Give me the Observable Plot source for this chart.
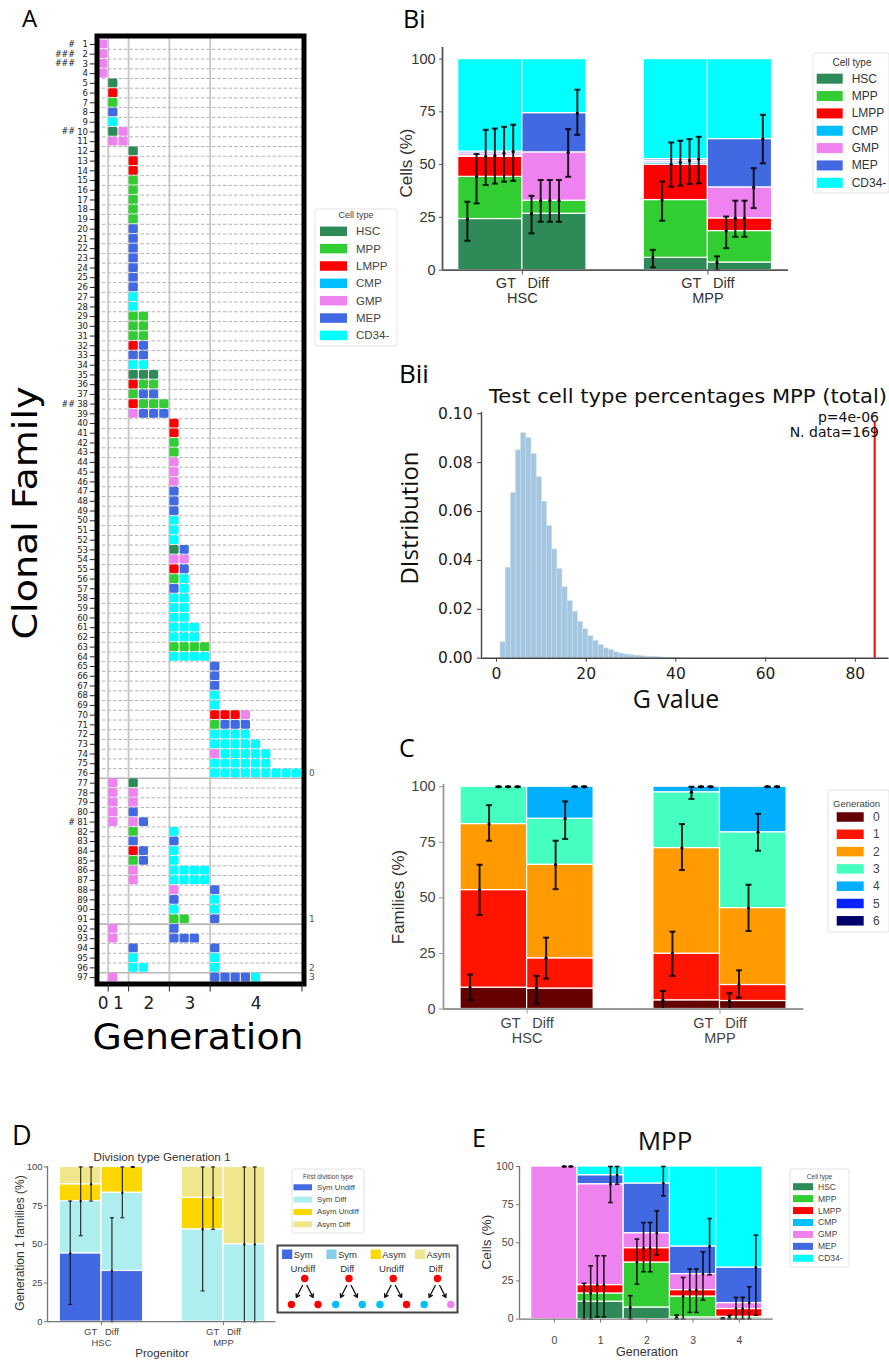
<!DOCTYPE html>
<html><head><meta charset="utf-8">
<script src="https://cdn.jsdelivr.net/npm/d3@7"></script>
<script src="https://cdn.jsdelivr.net/npm/@observablehq/plot@0.6"></script>
<style>
html,body{margin:0;padding:0;background:#fff;}
#root{position:relative;width:889px;height:1360px;overflow:hidden;background:#fff;}
</style></head>
<body><div id="root"></div>
<script>
// ================= DATA =================
const cellTypes  = ["HSC","MPP","LMPP","CMP","GMP","MEP","CD34-"];
const cellColors = ["#2e8b57","#32cd32","#ff0000","#00bfff","#ee82ee","#4169e1","#00ffff"];
const cellCodes  = ["H","M","L","C","G","E","X"];

// Panel A: each clonal family = list of "<slot><cell code>"
const familyCells = [
 "0G","0G","0G","0G",
 "1H","1L","1M","1E","1X",
 "1H 2G","1G 2G",
 "3H","3L","3L","3M","3M","3M","3M","3M",
 "3E","3E","3E","3E","3E","3E","3E",
 "3X","3X",
 "3M 4M","3M 4M","3M 4M","3L 4E","3E 4E","3X 4X",
 "3H 4H 5H","3L 4M 5M","3M 4E 5E",
 "3L 4M 5M 6M","3G 4E 5E 6E",
 "7L","7L","7M","7M","7G","7G","7G","7E","7E","7E",
 "7X","7X","7X",
 "7H 8E","7G 8G","7L 8E","7M 8X","7E 8X",
 "7X 8X","7X 8X","7X 8X",
 "7X 8X 9X","7X 8X 9X",
 "7M 8M 9M 10M","7X 8X 9X 10X",
 "11E","11E","11E","11X","11X",
 "11L 12L 13L 14G","11M 12E 13E 14E",
 "11X 12X 13X 14X","11X 12X 13X 14X 15X",
 "11G 12X 13X 14X 15X 16X","11X 12X 13X 14X 15X 16X",
 "11X 12X 13X 14X 15X 16X 17X 18X 19X",
 "1G 3H","1G 3G","1G 3G","1G 3E","1G 3G 4E",
 "3M 7X","3E 7E","3L 4E 7X","3M 4E 7X",
 "3G 7X 8X 9X 10X","3G 7X 8X 9X 10X",
 "7G 11E","7E 11X","7X 11X","7M 8M 11E",
 "1G 7E","1G 7E 8E 9E",
 "3E 11E","3X 11X","3X 4X 11X",
 "1G 11E 12E 13E 14E 15X"
];
const hashRows  = [1, 2, 3, 10, 38, 81];
const hashMarks = ["#", "###", "###", "##", "##", "#"];
const groupEndRows = [76, 91, 96, 97];
const groupNames   = ["0", "1", "2", "3"];
const genNames     = ["0", "1", "2", "3", "4"];
const genFirstSlot = [0, 1, 3, 7, 11];
const genEndSlot   = [1, 3, 7, 11, 20];

// Panel Bi: cumulative % per cell type (bars: HSC GT, HSC Diff, MPP GT, MPP Diff)
const progenitors = ["HSC", "MPP"];
const conditions  = ["GT", "Diff"];
const biCum = [
  [24.2, 44.2, 53.7, 54.2, 55.3, 56.2, 100],
  [26.7, 32.9, 32.9, 32.9, 55.8, 74.4, 100],
  [5.8, 33.2, 50.0, 51.0, 51.8, 52.6, 100],
  [3.6, 18.5, 24.5, 24.5, 39.2, 62.1, 100]
];
const biLo = [
  [13.9, 31.6, 40.3, 41.0, 41.9, 42.3],
  [17.4, 22.9, 22.9, 22.9, 44.2, 64.1],
  [1.3, 23.4, 39.5, 40.0, 40.8, 41.1],
  [0, 10.4, 15.8, 15.8, 29.4, 50.6]
];
const biHi = [
  [32.4, 55.0, 66.5, 67.1, 67.9, 68.9],
  [35.2, 42.7, 42.7, 42.7, 66.8, 85.5],
  [9.6, 42.0, 60.5, 61.3, 62.1, 63.2],
  [6.5, 25.4, 32.9, 32.9, 48.3, 73.6]
];

// Panel Bii: null distribution of G
const gBinLeft = [0.9, 2.05, 3.2, 4.35, 5.5, 6.65, 7.8, 8.95, 10.1, 11.25, 12.4, 13.55, 14.7, 15.85, 17.0,
  18.15, 19.3, 20.45, 21.6, 22.75, 23.9, 25.05, 26.2, 27.35, 28.5, 29.65, 30.8, 31.95, 33.1, 34.25, 35.4,
  36.55, 37.7, 38.85, 40.0];
const gBinWidth = 1.15;
const gDensity = [0.0065, 0.037, 0.0675, 0.085, 0.092, 0.090, 0.0835, 0.074, 0.064, 0.054, 0.0445, 0.0365,
  0.029, 0.0233, 0.019, 0.0148, 0.0118, 0.009, 0.007, 0.0053, 0.004, 0.0033, 0.0024, 0.0019, 0.0015, 0.0012,
  0.001, 0.0008, 0.0006, 0.0005, 0.0004, 0.0003, 0.0002, 0.00015, 0.0001];
const gObserved = 84.3;
const gLineTop = 0.0965;
const gTitle = "Test cell type percentages MPP (total)";
const gPValue = "p=4e-06";
const gNData = "N. data=169";

// Panel C: cumulative % of families per generation
const genLevels = ["0","1","2","3","4","5","6"];
const genColors = ["#640000","#ff1400","#ff9a00","#44ffc0","#00b0ff","#0a22ff","#00006c"];
const cCum = [
  [9.6, 53.5, 83.2, 100, 100, 100, 100],
  [9.2, 22.8, 64.9, 85.6, 100, 100, 100],
  [3.9, 24.9, 72.4, 97.5, 100, 100, 100],
  [3.6, 10.8, 45.4, 79.5, 100, 100, 100]
];
const cLo = [
  [4.0, 42.3, 75.7, 100, 100, 100],
  [2.4, 13.7, 53.9, 76.5, 100, 100],
  [0, 14.9, 62.5, 94.5, 100, 100],
  [0, 5.1, 35.1, 71.2, 100, 100]
];
const cHi = [
  [15.5, 64.9, 91.7, 100, 100, 100],
  [14.9, 32.1, 75.7, 93.4, 100, 100],
  [8.1, 34.8, 83.2, 100, 100, 100],
  [7.1, 17.4, 55.9, 87.8, 100, 100]
];

// Panel D: first division type
const divTypes  = ["Sym Undiff", "Sym Diff", "Asym Undiff", "Asym Diff"];
const divColors = ["#4169e1", "#afeeee", "#ffd700", "#f0e68c"];
const dCum = [
  [44.2, 78.0, 88.8, 100],
  [32.8, 83.4, 100, 100],
  [0, 59.7, 80.1, 100],
  [0, 50, 50, 100]
];
const dLo = [[11.2, 55.6, 78.0], [0, 67.2, 100], [0, 19.9, 59.7], [0, 0, 0]];
const dHi = [[78.0, 100, 100], [67.2, 100, 100], [0, 100, 100], [0, 100, 100]];
const divKinds = ["Sym", "Sym", "Asym", "Asym"];
const divFates = ["Undiff", "Diff", "Undiff", "Diff"];
const divSwatch = ["#4169e1", "#87ceeb", "#ffd700", "#f0e68c"];
const divParent = "#ff0000";
const divChildren = [["#ff0000","#ff0000"],["#00bfff","#00bfff"],["#00bfff","#ff0000"],["#00bfff","#ee82ee"]];

// Panel E: MPP, cumulative % per cell type by generation
const eGens = ["0", "1", "2", "3", "4"];
const eCum = [
  [0, 0, 0, 0, 100, 100, 100],
  [11.4, 16.8, 22.3, 22.3, 88.4, 94.3, 100],
  [7.6, 37.1, 46.5, 46.5, 56.3, 88.9, 100],
  [1.1, 14.8, 19.0, 19.0, 29.5, 47.6, 100],
  [0.4, 1.5, 6.6, 6.6, 10.5, 33.8, 100]
];
const eLo = [
  [0, 0, 0, 0, 100, 100],
  [0, 0, 1.5, 1.5, 76.4, 88.4],
  [0, 22.9, 31.0, 31.0, 42.1, 80.8],
  [0, 0, 4.4, 4.4, 12.4, 29.0],
  [0, 0, 0, 0, 0, 2.6]
];
const eHi = [
  [0, 0, 0, 0, 100, 100],
  [23.4, 34.9, 41.5, 41.5, 100, 100],
  [15.3, 52.4, 63.3, 63.3, 71.0, 100],
  [2.6, 27.3, 32.8, 32.8, 44.1, 65.9],
  [0.5, 2.6, 14.2, 14.2, 21.2, 55.0]
];

// ================= HELPERS =================
const LIB = '"Liberation Sans", Arial, sans-serif';
const DJV = '"DejaVu Sans", sans-serif';
const OPEN = '"Open Sans", sans-serif';
const root = document.getElementById("root");
function place(node, left, top) {
  node.style.position = "absolute";
  node.style.left = left + "px";
  node.style.top = top + "px";
  node.style.maxWidth = "none";
  root.appendChild(node);
}
const hline = { draw(ctx, size) { const r = Math.sqrt(size / Math.PI); ctx.moveTo(-r, 0); ctx.lineTo(r, 0); } };
const colorOfCell = t => cellColors[cellTypes.indexOf(t)];

// ================= PANEL A =================
{
  const cells = [];
  familyCells.forEach((s, i) => s.split(" ").forEach(tok => {
    const slot = +tok.slice(0, -1), code = tok.slice(-1);
    cells.push({row: i + 1, slot, type: cellTypes[cellCodes.indexOf(code)]});
  }));
  const rowIds = d3.range(1, familyCells.length + 1);
  const dashed = rowIds.slice(0, -1).filter(r => !groupEndRows.includes(r)).map(r => r + 0.5);
  const solid = groupEndRows.slice(0, -1).map(r => r + 0.5);
  const genCenters = genFirstSlot.map((s, i) => (s + genEndSlot[i]) / 2);
  const genLabel = new Map(genCenters.map((c, i) => [c, genNames[i]]));
  const fx0 = 96.5, fx1 = 303.5, fy0 = 35.5, fy1 = 983.5;
  const m = [96.5, 40, 35.5, 40];
  const p = Plot.plot({
    width: fx1 - fx0 + m[0] + m[1], height: fy1 - fy0 + m[2] + m[3],
    marginLeft: m[0], marginRight: m[1], marginTop: m[2], marginBottom: m[3],
    x: {domain: [-0.1, 20.2], label: null},
    y: {domain: [0.13, 97.66], reverse: true, axis: null, label: null},
    style: {fontFamily: DJV, fontSize: "9px", color: "#222", background: "transparent", overflow: "visible"},
    marks: [
      Plot.ruleY(dashed, {stroke: "#b4b4b4", strokeDasharray: "3.5,2", strokeWidth: 1}),
      Plot.ruleY(solid, {stroke: "#b8b8b8", strokeWidth: 1.6}),
      Plot.ruleX(genFirstSlot.slice(1), {stroke: "#c6c6c6", strokeWidth: 1.8}),
      Plot.rect(cells, {x1: "slot", x2: d => d.slot + 1, y1: d => d.row - 0.5, y2: d => d.row + 0.5,
        fill: d => colorOfCell(d.type), inset: 0.5, rx: 1.5}),
      Plot.frame({stroke: "black", strokeWidth: 5}),
      Plot.ruleY(rowIds, {x1: -0.75, x2: -0.2, stroke: "#222", strokeWidth: 1}),
      Plot.text(rowIds, {y: d => d, text: d => String(d), frameAnchor: "left", dx: -9, textAnchor: "end", fontSize: 8.5, fill: "#222"}),
      Plot.text(hashRows, {y: d => d, text: (d, i) => hashMarks[i], frameAnchor: "left", dx: -22, textAnchor: "end", fontSize: 8, fill: "#222"}),
      Plot.text(groupEndRows, {y: d => d, text: (d, i) => groupNames[i], frameAnchor: "right", dx: 5, textAnchor: "start", fontSize: 9, fill: "#555"}),
      Plot.axisX({ticks: genEndSlot, tickSize: 8, tickFormat: () => "", stroke: "#222"}),
      Plot.axisX({ticks: genCenters, tickSize: 0, tickPadding: 13, tickFormat: d => genLabel.get(d), fontSize: 17, fill: "#222"})
    ]
  });
  place(p, fx0 - m[0], fy0 - m[2]);
}

// ================= STACKED PANELS =================
function stackPanel(o) {
  const nc = o.colors.length;
  const segs = [], errs = [];
  o.cum.forEach((tops, b) => {
    const gi = Math.floor(b / o.subs.length), si = b % o.subs.length;
    const x0 = gi * o.step + si;
    tops.forEach((t, k) => {
      const y1 = k ? tops[k - 1] : 0;
      if (t > y1) segs.push({x1: x0, x2: x0 + 1, y1, y2: t, k});
    });
    o.lo[b].forEach((l, k) => {
      const h = o.hi[b][k];
      if (!(tops[k] === 0 && l === 0 && h === 0)) errs.push({x: x0 + (k + 1) / nc, y: tops[k], lo: l, hi: h});
    });
  });
  const caps = errs.flatMap(e => [{x: e.x, y: e.lo}, {x: e.x, y: e.hi}]);
  const tickVals = o.groups.map((g, gi) => gi * o.step + o.subs.length / 2);
  const tickText = new Map(tickVals.map((v, gi) => [v, o.tickLabel(o.groups[gi])]));
  const [fx0, fx1, fy0, fy1] = o.frame;
  const m = o.m;
  const p = Plot.plot({
    width: fx1 - fx0 + m[0] + m[1], height: fy1 - fy0 + m[2] + m[3],
    marginLeft: m[0], marginRight: m[1], marginTop: m[2], marginBottom: m[3],
    x: {domain: o.xDomain, label: null},
    y: {domain: o.yDomain, label: null},
    style: {fontFamily: LIB, fontSize: o.fontSize + "px", color: o.tickColor, background: "transparent", overflow: "visible"},
    marks: [
      Plot.rect(segs, {x1: "x1", x2: "x2", y1: "y1", y2: "y2", fill: d => o.colors[d.k], stroke: "white", strokeWidth: 1.2}),
      Plot.ruleX(errs, {x: "x", y1: "lo", y2: "hi", stroke: "black", strokeWidth: o.errW, strokeOpacity: o.errOp}),
      Plot.dot(caps, {x: "x", y: "y", symbol: hline, r: o.capR, fill: "none", stroke: "black", strokeWidth: o.errW, strokeOpacity: o.errOp}),
      Plot.dot(errs, {x: "x", y: "y", r: o.dotR, fill: "black", fillOpacity: o.errOp}),
      Plot.ruleX([o.xDomain[0]], {stroke: o.spine, strokeWidth: o.spineW}),
      Plot.ruleY([o.yDomain[0]], {stroke: o.spine, strokeWidth: o.spineW}),
      Plot.axisY({ticks: o.yTicks, tickSize: o.yTickSize, tickPadding: o.yTickPadding, fontSize: o.fontSize, stroke: o.spine, fill: o.tickColor}),
      Plot.axisX({ticks: tickVals, tickFormat: d => tickText.get(d), tickSize: o.xTickSize, tickPadding: o.xTickPadding,
        fontSize: o.fontSize, lineHeight: o.lineHeight, stroke: o.spine, fill: o.tickColor})
    ]
  });
  place(p, fx0 - m[0], fy0 - m[2]);
}
const groupTick = g => conditions.join("   ") + "\n" + g;

// Bi
stackPanel({
  frame: [442, 788, 46.7, 269.3], m: [50, 16, 10, 45],
  xDomain: [-0.245, 5.149], yDomain: [0, 105.5],
  groups: progenitors, subs: conditions, step: 2.892,
  cum: biCum, lo: biLo, hi: biHi, colors: cellColors, tickLabel: groupTick,
  yTicks: [0, 25, 50, 75, 100], yTickSize: 3, yTickPadding: 4, xTickSize: 5, xTickPadding: 3,
  fontSize: 14.5, lineHeight: 1, tickColor: "#333", spine: "#555", spineW: 1.8,
  errW: 2, errOp: 0.85, capR: 3, dotR: 1.7
});
// C
stackPanel({
  frame: [443, 803.3, 783.5, 1008], m: [50, 10, 10, 45],
  xDomain: [-0.256, 5.157], yDomain: [0, 101],
  groups: progenitors, subs: conditions, step: 2.898,
  cum: cCum, lo: cLo, hi: cHi, colors: genColors, tickLabel: groupTick,
  yTicks: [0, 25, 50, 75, 100], yTickSize: 4, yTickPadding: 4, xTickSize: 5, xTickPadding: 3,
  fontSize: 14.5, lineHeight: 1.05, tickColor: "#444", spine: "#999", spineW: 1.8,
  errW: 2, errOp: 0.85, capR: 3, dotR: 1.7
});
// D
stackPanel({
  frame: [46.7, 275, 1165.5, 1320.7], m: [40, 10, 5, 35],
  xDomain: [-0.295, 5.18], yDomain: [0, 100.3],
  groups: progenitors, subs: conditions, step: 2.926,
  cum: dCum, lo: dLo, hi: dHi, colors: divColors, tickLabel: groupTick,
  yTicks: [0, 25, 50, 75, 100], yTickSize: 3, yTickPadding: 2, xTickSize: 4, xTickPadding: 2,
  fontSize: 9.5, lineHeight: 1.15, tickColor: "#444", spine: "#777", spineW: 1.3,
  errW: 1.2, errOp: 0.8, capR: 2, dotR: 1.2
});
// E
stackPanel({
  frame: [519.3, 773, 1165.7, 1318.3], m: [40, 10, 5, 40],
  xDomain: [-0.253, 5.232], yDomain: [0, 100],
  groups: eGens, subs: [""], step: 1,
  cum: eCum, lo: eLo, hi: eHi, colors: cellColors, tickLabel: g => g,
  yTicks: [0, 25, 50, 75, 100], yTickSize: 3, yTickPadding: 3, xTickSize: 4, xTickPadding: 13,
  fontSize: 10.5, lineHeight: 1, tickColor: "#444", spine: "#777", spineW: 1.3,
  errW: 1.6, errOp: 0.85, capR: 2.4, dotR: 1.4
});

// ================= PANEL Bii =================
{
  const fx0 = 481, fx1 = 888.5, fy0 = 412.3, fy1 = 658;
  const m = [60, 0.5, 10, 35];
  const bins = gBinLeft.map((x, i) => ({x1: x, x2: x + gBinWidth, y: gDensity[i]}));
  const p = Plot.plot({
    width: fx1 - fx0 + m[0] + m[1], height: fy1 - fy0 + m[2] + m[3],
    marginLeft: m[0], marginRight: m[1], marginTop: m[2], marginBottom: m[3],
    x: {domain: [-3.34, 87.5], label: null},
    y: {domain: [0, 0.1005], label: null},
    style: {fontFamily: DJV, fontSize: "15.5px", color: "#222", background: "transparent", overflow: "visible"},
    marks: [
      Plot.rect(bins, {x1: "x1", x2: "x2", y1: 0, y2: "y", fill: "#a4c6e1", stroke: "#c8dcec", strokeWidth: 0.6}),
      Plot.ruleX([gObserved], {y1: 0, y2: gLineTop, stroke: "#ff0000", strokeWidth: 2}),
      Plot.ruleX([-3.34], {stroke: "#444", strokeWidth: 1.4}),
      Plot.ruleY([0], {stroke: "#444", strokeWidth: 1.4}),
      Plot.axisY({ticks: [0, 0.02, 0.04, 0.06, 0.08, 0.10], tickFormat: d3.format(".2f"), tickSize: 4, tickPadding: 5, fontSize: 15.5, stroke: "#444"}),
      Plot.axisX({ticks: [0, 20, 40, 60, 80], tickSize: 4, tickPadding: 6, fontSize: 15.5, stroke: "#444"})
    ]
  });
  place(p, fx0 - m[0], fy0 - m[2]);
}

// ================= DIVISION DIAGRAM (panel D) =================
{
  const idx = d3.range(divKinds.length);
  const arrows = idx.flatMap(i => [{i, s: -1}, {i, s: 1}]);
  const kids = idx.flatMap(i => [{x: i + 0.27, c: divChildren[i][0]}, {x: i + 0.87, c: divChildren[i][1]}]);
  const p = Plot.plot({
    width: 181, height: 68, marginTop: 0, marginBottom: 0, marginLeft: 2, marginRight: 2,
    x: {domain: [0, 4], axis: null}, y: {domain: [0, 68], reverse: true, axis: null},
    style: {fontFamily: LIB, fontSize: "9.5px", color: "#222", background: "transparent", overflow: "visible"},
    marks: [
      Plot.rect(idx, {x1: i => i + 0.07, x2: i => i + 0.3, y1: 4.5, y2: 14, fill: i => divSwatch[i]}),
      Plot.text(idx, {x: i => i + 0.32, y: 9.5, text: i => divKinds[i], textAnchor: "start", fontSize: 9.5, fill: "#333"}),
      Plot.text(idx, {x: i => i + 0.53, y: 23.5, text: i => divFates[i], fontSize: 9.5, fill: "#333"}),
      Plot.arrow(arrows, {x1: d => d.i + 0.57 + d.s * 0.05, y1: 40, x2: d => d.i + 0.57 + d.s * 0.19, y2: 52,
        stroke: "#111", strokeWidth: 1.3, headLength: 4.5}),
      Plot.dot(idx, {x: i => i + 0.57, y: 33, r: 3.7, fill: divParent}),
      Plot.dot(kids, {x: "x", y: 59, r: 3.7, fill: d => d.c})
    ]
  });
  place(p, 277, 1245);
}

// ================= OVERLAY: texts & legends =================
const ov = d3.create("svg").attr("width", 889).attr("height", 1360)
  .style("position", "absolute").style("left", "0px").style("top", "0px");
function T(x, y, s, o = {}) {
  const t = ov.append("text").attr("x", x).attr("y", y).text(s)
    .attr("font-family", o.family || OPEN).attr("font-size", o.size || 12)
    .attr("fill", o.fill || "#000").attr("text-anchor", o.anchor || "start")
    .style("white-space", "pre");
  if (o.rotate) t.attr("transform", `rotate(${o.rotate},${x},${y})`);
  if (o.len) t.attr("textLength", o.len).attr("lengthAdjust", "spacingAndGlyphs");
  if (o.baseline) t.attr("dominant-baseline", o.baseline);
  return t;
}
function legend(o) {
  ov.append("rect").attr("x", o.x).attr("y", o.y).attr("width", o.w).attr("height", o.h)
    .attr("rx", 2).attr("fill", "white").attr("stroke", "#dcdcdc").attr("stroke-width", 0.8);
  T(o.tx, o.ty, o.title, {size: o.ts, anchor: o.ta || "middle", fill: o.fill, family: LIB, baseline: "central"});
  o.items.forEach((it, i) => {
    const cy = o.y0 + i * o.dy;
    ov.append("rect").attr("x", o.sx).attr("y", cy - o.sh / 2).attr("width", o.sw).attr("height", o.sh).attr("fill", o.colors[i]);
    T(o.lx, cy, it, {size: o.ls, fill: o.fill, family: LIB, baseline: "central"});
  });
}

// panel letters
T(22, 27, "A", {size: 24});
T(403, 28, "Bi", {size: 25});
T(399, 383, "Bii", {size: 26});
T(399, 757, "C", {size: 25});
T(12, 1145, "D", {size: 27});
T(472, 1147, "E", {size: 25});

// panel A titles
T(37, 513, "Clonal Family", {size: 34, family: DJV, anchor: "middle", rotate: -90, len: 253});
T(198, 1049, "Generation", {size: 36, family: DJV, anchor: "middle", len: 211});

// Bi / Bii / C titles
T(412, 163, "Cells (%)", {size: 17, family: LIB, anchor: "middle", rotate: -90, fill: "#333"});
T(688, 403, gTitle, {size: 19, family: DJV, anchor: "middle", len: 398, fill: "#111"});
T(879, 422, gPValue, {size: 14, family: DJV, anchor: "end", fill: "#111"});
T(879, 437, gNData, {size: 14, family: DJV, anchor: "end", fill: "#111"});
T(418, 518, "DIstribution", {size: 24, anchor: "middle", rotate: -90, fill: "#111"});
T(676, 708, "G value", {size: 25, anchor: "middle", fill: "#111"});
T(404, 897, "Families (%)", {size: 17, family: LIB, anchor: "middle", rotate: -90, fill: "#333"});

// D titles
T(162, 1161, "Division type Generation 1", {size: 11.7, family: LIB, anchor: "middle", fill: "#333"});
T(24, 1243, "Generation 1 families (%)", {size: 12, family: LIB, anchor: "middle", rotate: -90, fill: "#333"});
T(162, 1357, "Progenitor", {size: 11.6, family: LIB, anchor: "middle", fill: "#333"});
ov.append("rect").attr("x", 277.5).attr("y", 1245.5).attr("width", 180).attr("height", 67)
  .attr("fill", "none").attr("stroke", "#444").attr("stroke-width", 2);

// E titles
T(665, 1150, "MPP", {size: 26, anchor: "middle", fill: "#111"});
T(491, 1242, "Cells (%)", {size: 13.5, family: LIB, anchor: "middle", rotate: -90, fill: "#333"});
T(647, 1356, "Generation", {size: 12.5, family: LIB, anchor: "middle", fill: "#333"});

// legends
legend({x: 315, y: 209, w: 82, h: 137, title: "Cell type", tx: 356, ty: 214.5, ts: 9, fill: "#444",
  items: cellTypes, colors: cellColors, y0: 231.3, dy: 17.35, sx: 320, sw: 27, sh: 9.5, lx: 356, ls: 11.5});
legend({x: 813, y: 53, w: 76, h: 140, title: "Cell type", tx: 852, ty: 62, ts: 10, fill: "#333",
  items: cellTypes, colors: cellColors, y0: 78.7, dy: 17.35, sx: 816.7, sw: 26, sh: 10, lx: 851.7, ls: 12});
legend({x: 828, y: 790, w: 61, h: 142, title: "Generation", tx: 833, ty: 803, ts: 9.5, ta: "start", fill: "#444",
  items: genLevels, colors: genColors, y0: 817, dy: 17.3, sx: 836.7, sw: 27, sh: 9.5, lx: 873, ls: 12});
legend({x: 292, y: 1169, w: 72, h: 64, title: "First division type", tx: 328, ty: 1176.5, ts: 6.5, fill: "#444",
  items: divTypes, colors: divColors, y0: 1187.3, dy: 12.33, sx: 293.5, sw: 18.5, sh: 6, lx: 317, ls: 7.8});
legend({x: 790, y: 1169, w: 59, h: 98, title: "Cell type", tx: 819.5, ty: 1176.5, ts: 6.5, fill: "#444",
  items: cellTypes, colors: cellColors, y0: 1186.7, dy: 11.93, sx: 793, sw: 20, sh: 7, lx: 818, ls: 8.5});

root.appendChild(ov.node());
</script>
</body></html>
